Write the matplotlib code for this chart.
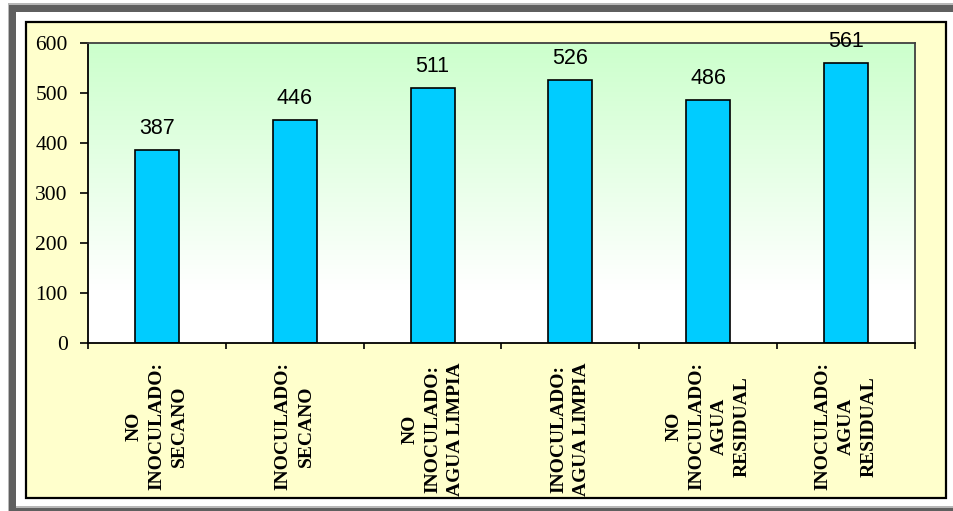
import numpy as np
import matplotlib.pyplot as plt
from matplotlib.patches import Rectangle
from matplotlib.colors import LinearSegmentedColormap

# datos
categorias = ["NO\nINOCULADO:\nSECANO", "INOCULADO:\nSECANO",
              "NO\nINOCULADO:\nAGUA LIMPIA", "INOCULADO:\nAGUA LIMPIA",
              "NO\nINOCULADO:\nAGUA\nRESIDUAL", "INOCULADO:\nAGUA\nRESIDUAL"]
valores = [387, 446, 511, 526, 486, 561]
yticks = [0, 100, 200, 300, 400, 500, 600]

W, H = 954, 511
fig = plt.figure(figsize=(W / 100, H / 100), dpi=100)
fig.patch.set_facecolor("white")


def caja(x0, y0, x1, y1, **kw):
    # rectangulo en pixeles (origen arriba a la izquierda)
    r = Rectangle((x0 / W, 1 - y1 / H), (x1 - x0) / W, (y1 - y0) / H,
                  transform=fig.transFigure, **kw)
    fig.add_artist(r)
    return r


# marco gris exterior
caja(8, 3, 954, 5, facecolor="#b8b8b8", edgecolor="none", zorder=0)
caja(9, 5, 954, 12, facecolor="#5f5f5f", edgecolor="none", zorder=0)
caja(8, 3, 9, 511, facecolor="#b8b8b8", edgecolor="none", zorder=0)
caja(9, 5, 16, 511, facecolor="#5f5f5f", edgecolor="none", zorder=0)
caja(16, 506, 954, 508, facecolor="#b8b8b8", edgecolor="none", zorder=0)
caja(16, 508, 954, 511, facecolor="#5f5f5f", edgecolor="none", zorder=0)

# area del grafico amarilla
caja(26, 22, 946, 498, facecolor="#ffffcc", edgecolor="black", linewidth=1.6, zorder=0)

ax = fig.add_axes([88 / W, 1 - 343 / H, (915 - 88) / W, 300 / H])
ax.set_facecolor("none")

# degradado verde -> blanco
grad = np.linspace(0, 1, 256).reshape(-1, 1)
cmap = LinearSegmentedColormap.from_list("g", [(0, "white"), (0.18, "white"), (1, "#ccffcc")])
ax.imshow(grad, extent=[0, 1, 0, 1], transform=ax.transAxes, cmap=cmap,
          aspect="auto", origin="lower", zorder=0)

x = np.arange(len(valores))
ax.bar(x, valores, width=0.32, color="#00ccff", edgecolor="black",
       linewidth=1.2, zorder=2)

for xi, v in zip(x, valores):
    ax.annotate(str(v), (xi, v), xytext=(0, 11.5), textcoords="offset points",
                ha="center", va="baseline", fontsize=15.5,
                family="Liberation Sans", zorder=3, annotation_clip=False)

ax.set_xlim(-0.5, len(valores) - 0.5)
ax.set_ylim(0, 600)
ax.set_yticks(yticks)
ax.set_yticklabels([str(t) for t in yticks], family="Liberation Serif", fontsize=15.5)
ax.tick_params(axis="y", direction="out", length=6, width=1.2, pad=8.5)

ax.set_xticks(x)
ax.set_xticklabels(categorias, rotation=90, family="Liberation Serif",
                   fontweight="bold", fontsize=14, va="top", ha="center",
                   linespacing=1.45, multialignment="center")
ax.tick_params(axis="x", length=0, pad=14)
ax.set_xticks(np.arange(-0.5, len(valores)), minor=True)
ax.tick_params(axis="x", which="minor", direction="out", length=4, width=1.2)

for s in ["left", "bottom"]:
    ax.spines[s].set_color("black")
    ax.spines[s].set_linewidth(1.3)
for s in ["top", "right"]:
    ax.spines[s].set_color("#404040")
    ax.spines[s].set_linewidth(1.3)

fig.savefig("out.png", dpi=100)
